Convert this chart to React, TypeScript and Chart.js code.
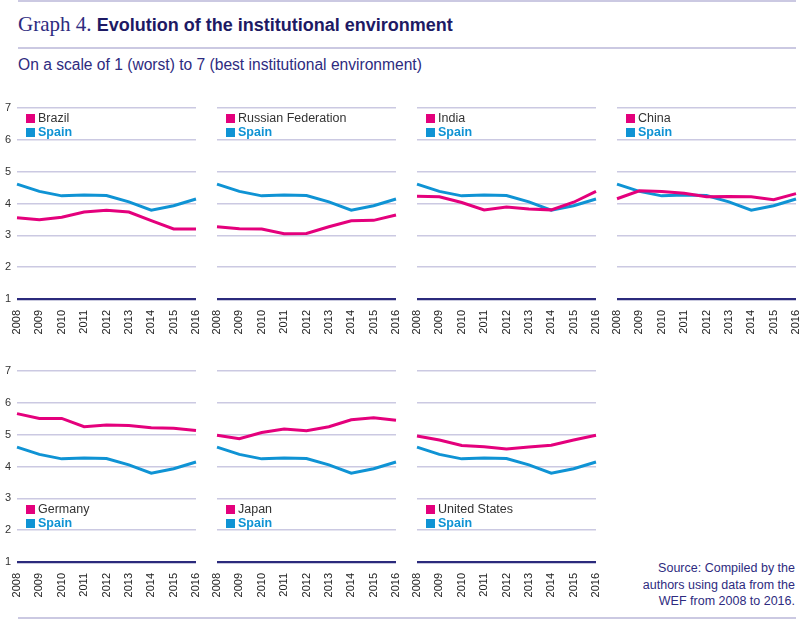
import React, { useEffect, useRef } from "react";
import { Chart, registerables } from "chart.js";

Chart.register(...registerables);

const years = ["2008", "2009", "2010", "2011", "2012", "2013", "2014", "2015", "2016"];
const yTicks = [1, 2, 3, 4, 5, 6, 7];

const spain = [4.61, 4.38, 4.24, 4.27, 4.25, 4.05, 3.79, 3.93, 4.14];
const brazil = [3.55, 3.49, 3.57, 3.73, 3.79, 3.73, 3.46, 3.2, 3.2];
const russia = [3.27, 3.21, 3.2, 3.05, 3.06, 3.27, 3.46, 3.47, 3.64];
const india = [4.23, 4.21, 4.03, 3.8, 3.89, 3.83, 3.8, 4.04, 4.38];
const china = [4.15, 4.4, 4.38, 4.32, 4.21, 4.22, 4.21, 4.12, 4.31];
const germany = [5.66, 5.51, 5.51, 5.25, 5.3, 5.29, 5.22, 5.2, 5.13];
const japan = [4.98, 4.87, 5.07, 5.18, 5.12, 5.25, 5.47, 5.53, 5.45];
const usa = [4.96, 4.83, 4.66, 4.62, 4.55, 4.61, 4.67, 4.83, 4.98];

const countries = ["Brazil", "Russian Federation", "India", "China", "Germany", "Japan", "United States"];
const countryValues = [brazil, russia, india, china, germany, japan, usa];
const spainLabel = "Spain";

const PINK = "#e4007c";
const BLUE = "#0f93d4";
const GRID = "#cbc9e2";
const NAVY = "#2b2a7c";
const FONT = "'Liberation Sans', Arial, sans-serif";
const PADTOP = 10;

type PanelProps = {
  left: number;
  top: number;
  country: string;
  values: number[];
  showY: boolean;
  legendTop: number;
};

function Panel({ left, top, country, values, showY, legendTop }: PanelProps) {
  const ref = useRef<HTMLCanvasElement | null>(null);
  const W = 199;
  const H = PADTOP + 191 + 40;
  useEffect(() => {
    if (!ref.current) return;
    const chart = new Chart(ref.current, {
      type: "line",
      data: {
        labels: years,
        datasets: [
          { label: country, data: values, borderColor: PINK, borderWidth: 3, pointRadius: 0, tension: 0, fill: false },
          { label: spainLabel, data: spain, borderColor: BLUE, borderWidth: 3, pointRadius: 0, tension: 0, fill: false },
        ],
      },
      options: {
        responsive: false,
        animation: false,
        layout: { autoPadding: false, padding: { top: PADTOP, right: 3, left: 0, bottom: 0 } },
        plugins: { legend: { display: false }, tooltip: { enabled: false } },
        scales: {
          x: {
            type: "category",
            offset: false,
            grid: { display: false },
            border: { display: false },
            ticks: {
              maxRotation: 90,
              minRotation: 90,
              autoSkip: false,
              padding: 3,
              color: "#222",
              font: { family: FONT, size: 11 },
            },
            afterFit: (s: any) => {
              s.height = 40;
              s.paddingLeft = 0;
              s.paddingRight = 0;
              s.paddingTop = 0;
              s.paddingBottom = 0;
            },
          },
          y: {
            min: 1,
            max: 7,
            afterBuildTicks: (s: any) => {
              s.ticks = yTicks.map((v) => ({ value: v }));
            },
            grid: {
              drawTicks: false,
              color: (c: any) => (c.tick && c.tick.value === 1 ? NAVY : GRID),
              lineWidth: (c: any) => (c.tick && c.tick.value === 1 ? 2.2 : 1.4),
            },
            border: { display: false },
            ticks: {
              display: showY,
              padding: 6,
              color: "#333",
              font: { family: FONT, size: 11 },
            },
            afterFit: (s: any) => {
              s.width = 17;
              s.paddingLeft = 0;
              s.paddingRight = 0;
              s.paddingTop = 0;
              s.paddingBottom = 0;
            },
          },
        },
      },
    });
    return () => chart.destroy();
  }, []);
  const rowStyle: React.CSSProperties = {
    display: "flex",
    alignItems: "center",
    height: 13.5,
    fontFamily: FONT,
    fontSize: 12.5,
    lineHeight: "13.5px",
    whiteSpace: "nowrap",
  };
  const box = (c: string): React.CSSProperties => ({
    display: "inline-block",
    width: 9,
    height: 9,
    background: c,
    marginRight: 3,
  });
  return (
    <>
      <canvas
        ref={ref}
        width={W}
        height={H}
        style={{ position: "absolute", left: left - 17, top: top - PADTOP, width: W, height: H }}
      />
      <div style={{ position: "absolute", left: left + 9, top: legendTop }}>
        <div style={{ ...rowStyle, color: "#333" }}>
          <span style={box(PINK)} />
          {country}
        </div>
        <div style={{ ...rowStyle, color: BLUE, fontWeight: "bold" }}>
          <span style={box(BLUE)} />
          {spainLabel}
        </div>
      </div>
    </>
  );
}

export default function App() {
  const lefts = [17, 217, 417, 617];
  const topRow = 108;
  const bottomRow = 371;
  return (
    <div style={{ position: "fixed", left: 0, top: 0, width: 800, height: 627, background: "#fff", overflow: "hidden" }}>
      <div style={{ position: "absolute", left: 18, top: 0, width: 778, height: 1.5, background: GRID }} />
      <div
        style={{
          position: "absolute",
          left: 18,
          top: 12,
          lineHeight: "24px",
          whiteSpace: "nowrap",
        }}
      >
        <span style={{ fontFamily: "'Liberation Serif', serif", fontSize: 21, color: "#2e2b80" }}>Graph 4. </span>
        <span style={{ fontFamily: FONT, fontWeight: "bold", fontSize: 18, color: "#1d1a64" }}>
          Evolution of the institutional environment
        </span>
      </div>
      <div style={{ position: "absolute", left: 18, top: 47, width: 778, height: 1.5, background: GRID }} />
      <div
        style={{
          position: "absolute",
          left: 18,
          top: 55,
          fontFamily: FONT,
          fontSize: 15.6,
          lineHeight: "19px",
          color: "#2e2b80",
          whiteSpace: "nowrap",
        }}
      >
        On a scale of 1 (worst) to 7 (best institutional environment)
      </div>
      {countries.map((c, i) => {
        const row = i < 4 ? 0 : 1;
        const col = i < 4 ? i : i - 4;
        return (
          <Panel
            key={c}
            left={lefts[col]}
            top={row === 0 ? topRow : bottomRow}
            country={c}
            values={countryValues[i]}
            showY={col === 0}
            legendTop={row === 0 ? 112 : 503}
          />
        );
      })}
      <div
        style={{
          position: "absolute",
          right: 5,
          top: 560,
          textAlign: "right",
          fontFamily: FONT,
          fontSize: 12.5,
          lineHeight: "16.7px",
          color: "#2e2b80",
        }}
      >
        Source: Compiled by the
        <br />
        authors using data from the
        <br />
        WEF from 2008 to 2016.
      </div>
      <div style={{ position: "absolute", left: 18, top: 617, width: 778, height: 1.5, background: GRID }} />
    </div>
  );
}
